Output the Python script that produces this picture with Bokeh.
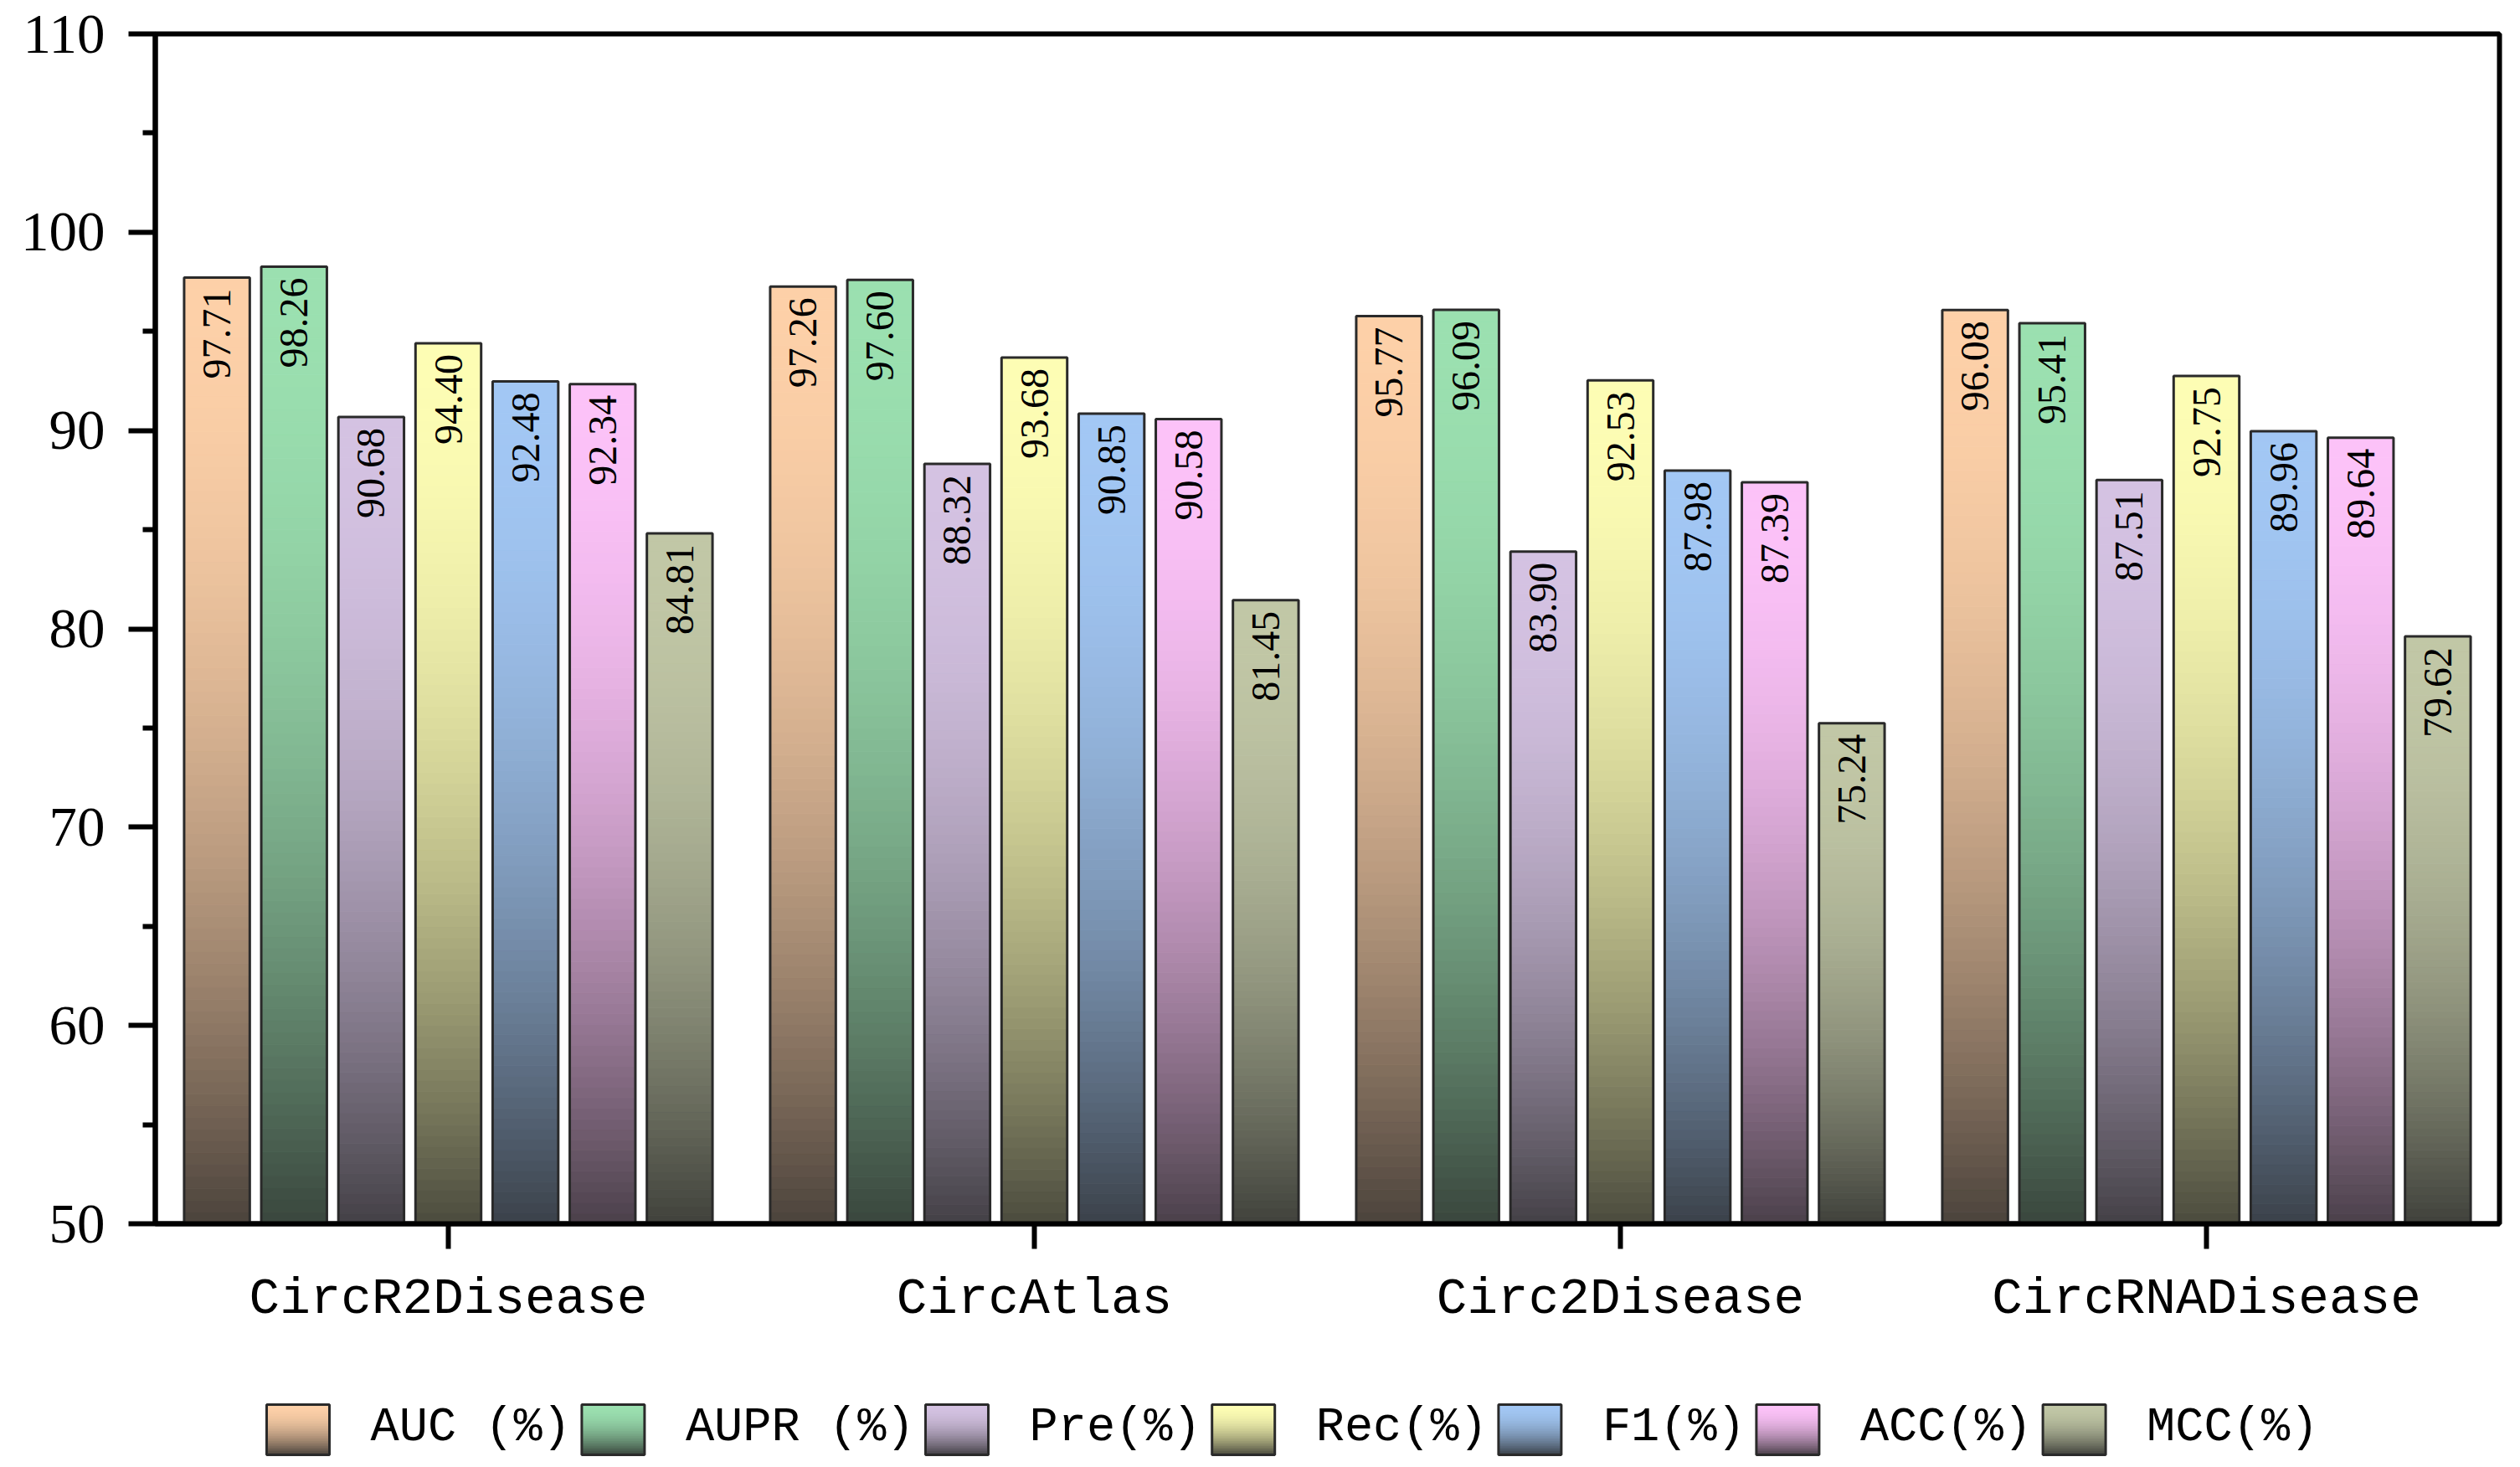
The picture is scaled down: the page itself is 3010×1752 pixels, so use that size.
import numpy as np
from bokeh.plotting import figure
from bokeh.models import FixedTicker, Range1d
from bokeh.layouts import column
from bokeh.embed import file_html
from bokeh.resources import INLINE
from bokeh.core.properties import value

# ---------------- data ----------------
datasets = ["CircR2Disease", "CircAtlas", "Circ2Disease", "CircRNADisease"]
metrics = ["AUC (%)", "AUPR (%)", "Pre(%)", "Rec(%)", "F1(%)", "ACC(%)", "MCC(%)"]
auc = [97.71, 97.26, 95.77, 96.08]
aupr = [98.26, 97.60, 96.09, 95.41]
pre = [90.68, 88.32, 83.90, 87.51]
rec = [94.40, 93.68, 92.53, 92.75]
f1 = [92.48, 90.85, 87.98, 89.96]
acc = [92.34, 90.58, 87.39, 89.64]
mcc = [84.81, 81.45, 75.24, 79.62]
y_ticks = [50, 60, 70, 80, 90, 100, 110]

series = [auc, aupr, pre, rec, f1, acc, mcc]
top_colors = [(253, 208, 168), (155, 224, 176), (212, 194, 226), (253, 253, 180),
              (162, 199, 244), (252, 194, 248), (193, 199, 166)]

# ---------------- style / layout ----------------
W = 2994
H_MAIN = 1620
H_LEG = 128
FRAME_L, FRAME_R, FRAME_T, FRAME_B = 185, 2985, 40, 1461
SLOT = 0.1316
BAR_W = 0.112
N_SLICES = 80
SERIF = "Liberation Serif"
MONO = "Liberation Mono"


def shade(rgb, t):
    """t = 0 at the top of the bar, 1 at its bottom."""
    f = t * t
    out = []
    for c in rgb:
        dark = 0.18 * c + 0.82 * 36
        out.append(int(round(c + (dark - c) * f)))
    return "#%02x%02x%02x" % tuple(out)


y0 = y_ticks[0]

p = figure(width=W, height=H_MAIN, x_range=Range1d(-0.5, len(datasets) - 0.5),
           y_range=Range1d(y_ticks[0], y_ticks[-1]), output_backend="svg",
           toolbar_location=None, title=None,
           min_border_left=FRAME_L, min_border_right=W - FRAME_R,
           min_border_top=FRAME_T, min_border_bottom=H_MAIN - FRAME_B)
p.background_fill_color = "white"
p.border_fill_color = "white"
p.xgrid.visible = False
p.ygrid.visible = False
p.outline_line_color = "black"
p.outline_line_width = 6
p.outline_line_alpha = 1.0

# gradient bars built from the data values
L, R, B, T, C = [], [], [], [], []
bar_x, bar_top, bar_txt = [], [], []
n_ser = len(series)
for j, vals in enumerate(series):
    off = (j - (n_ser - 1) / 2) * SLOT
    for i, v in enumerate(vals):
        xc = i + off
        bar_x.append(xc)
        bar_top.append(v)
        bar_txt.append(f"{v:.2f}")
        for k in range(N_SLICES):
            ya = y0 + (v - y0) * k / N_SLICES
            yb = y0 + (v - y0) * (k + 1) / N_SLICES
            t = 1 - (k + 0.5) / N_SLICES
            L.append(xc - BAR_W / 2)
            R.append(xc + BAR_W / 2)
            B.append(ya)
            T.append(yb)
            C.append(shade(top_colors[j], t))

p.quad(left=L, right=R, bottom=B, top=T, fill_color=C, line_color=C, line_width=1)
p.vbar(x=bar_x, width=BAR_W, bottom=y0, top=bar_top, fill_alpha=0,
       line_color="#2a2a2a", line_width=3)
p.text(x=bar_x, y=bar_top, text=bar_txt, angle=np.pi / 2, text_align="right",
       text_baseline="middle", y_offset=13, text_font=value(SERIF),
       text_font_size="48px", text_color="black")

# axes
xa = p.xaxis[0]
xa.ticker = FixedTicker(ticks=list(range(len(datasets))))
xa.major_label_overrides = {i: d for i, d in enumerate(datasets)}
xa.major_label_text_font = MONO
xa.major_label_text_font_size = "61px"
xa.major_label_text_color = "black"
xa.major_label_standoff = 25
xa.axis_line_width = 6
xa.axis_line_color = "black"
xa.major_tick_line_width = 6
xa.major_tick_line_color = "black"
xa.major_tick_out = 30
xa.major_tick_in = 0
xa.minor_tick_line_color = None

ya_ = p.yaxis[0]
minor = [(a + b) / 2 for a, b in zip(y_ticks[:-1], y_ticks[1:])]
ya_.ticker = FixedTicker(ticks=y_ticks, minor_ticks=minor)
ya_.major_label_text_font = SERIF
ya_.major_label_text_font_size = "67px"
ya_.major_label_text_color = "black"
ya_.major_label_standoff = 28
ya_.axis_line_width = 6
ya_.axis_line_color = "black"
ya_.major_tick_line_width = 6
ya_.major_tick_line_color = "black"
ya_.major_tick_out = 32
ya_.major_tick_in = 0
ya_.minor_tick_line_width = 6
ya_.minor_tick_line_color = "black"
ya_.minor_tick_out = 15
ya_.minor_tick_in = 0

# ---------------- legend (gradient swatches), same frame columns as the plot ----------------
lg = figure(width=W, height=H_LEG, x_range=Range1d(FRAME_L, FRAME_R),
            y_range=Range1d(H_MAIN + H_LEG, H_MAIN), output_backend="svg",
            toolbar_location=None, title=None,
            min_border_left=FRAME_L, min_border_right=W - FRAME_R,
            min_border_top=0, min_border_bottom=0,
            x_axis_type=None, y_axis_type=None)
lg.outline_line_color = None
lg.background_fill_color = "white"
lg.border_fill_color = "white"
lg.xgrid.visible = False
lg.ygrid.visible = False

LEG_FONT_PX = 57
char_w = 0.6 * LEG_FONT_PX
sw, sh, gap, spacing = 75, 60, 49, 13
sw_top = 1677
text_mid = 1704
x_cur = 318
LL, LR, LB, LT, LC = [], [], [], [], []
ox, tx, tt = [], [], []
n_leg = 30
for j, name in enumerate(metrics):
    for k in range(n_leg):
        t = (k + 0.5) / n_leg
        LL.append(x_cur)
        LR.append(x_cur + sw)
        LT.append(sw_top + sh * k / n_leg)
        LB.append(sw_top + sh * (k + 1) / n_leg)
        LC.append(shade(top_colors[j], t))
    ox.append(x_cur + sw / 2)
    tx.append(x_cur + sw + gap)
    tt.append(name)
    x_cur += sw + gap + len(name) * char_w + spacing

lg.quad(left=LL, right=LR, bottom=LB, top=LT, fill_color=LC, line_color=LC, line_width=1)
lg.rect(x=ox, y=[sw_top + sh / 2] * len(ox), width=sw, height=sh, fill_alpha=0,
        line_color="#2a2a2a", line_width=3)
lg.text(x=tx, y=[text_mid] * len(tx), text=tt, text_align="left", text_baseline="middle",
        text_font=value(MONO), text_font_size=f"{LEG_FONT_PX}px", text_color="black")

layout = column(p, lg, spacing=0)
open("out.html", "w").write(file_html(layout, INLINE))
